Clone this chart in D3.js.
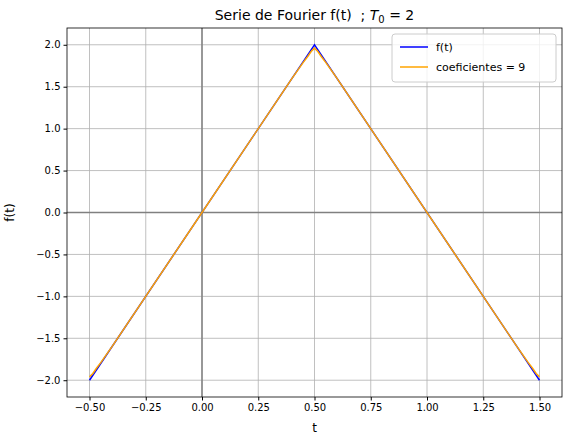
<!DOCTYPE html>
<html><head><meta charset="utf-8">
<script src="https://cdn.jsdelivr.net/npm/d3@7"></script>
<style>body{margin:0;background:#fff}text{font-family:"DejaVu Sans",sans-serif}</style>
</head><body><svg id="c" width="567" height="443"></svg>
<script>
const xTicks = [-0.5, -0.25, 0, 0.25, 0.5, 0.75, 1.0, 1.25, 1.5];
const yTicks = [-2.0, -1.5, -1.0, -0.5, 0.0, 0.5, 1.0, 1.5, 2.0];
const signalT = [-0.5, 0.5, 1.5];
const signalF = [-2, 2, -2];
const approxT = [-0.5, -0.485, -0.47, -0.45, -0.4, 0, 0.4, 0.45, 0.47, 0.485, 0.5, 0.515, 0.53, 0.55, 0.6, 1.4, 1.45, 1.47, 1.485, 1.5];
const approxF = [-1.96, -1.92, -1.86, -1.79, -1.6, 0, 1.6, 1.79, 1.86, 1.92, 1.96, 1.92, 1.86, 1.79, 1.6, -1.6, -1.79, -1.86, -1.92, -1.96];

const svg = d3.select("#c");
const L = 67, R = 562, T = 28, B = 397;
const x = d3.scaleLinear().domain([-0.6, 1.6]).range([L, R]);
const y = d3.scaleLinear().domain([-2.2, 2.2]).range([B, T]);

const g = svg.append("g");
g.selectAll(".gx").data(xTicks).join("line").attr("x1", d => x(d)).attr("x2", d => x(d))
  .attr("y1", T).attr("y2", B).attr("stroke", "#b0b0b0").attr("stroke-width", 0.8);
g.selectAll(".gy").data(yTicks).join("line").attr("y1", d => y(d)).attr("y2", d => y(d))
  .attr("x1", L).attr("x2", R).attr("stroke", "#b0b0b0").attr("stroke-width", 0.8);
g.append("line").attr("x1", x(0)).attr("x2", x(0)).attr("y1", T).attr("y2", B).attr("stroke", "#808080").attr("stroke-width", 1.5);
g.append("line").attr("y1", y(0)).attr("y2", y(0)).attr("x1", L).attr("x2", R).attr("stroke", "#808080").attr("stroke-width", 1.5);

const line = d3.line().x(d => x(d[0])).y(d => y(d[1]));
g.append("path").attr("d", line(signalT.map((t, i) => [t, signalF[i]]))).attr("fill", "none").attr("stroke", "blue").attr("stroke-width", 1.5);
g.append("path").attr("d", line(approxT.map((t, i) => [t, approxF[i]]))).attr("fill", "none").attr("stroke", "orange").attr("stroke-width", 1.5);

const ax = svg.append("g").attr("transform", `translate(0,${B})`)
  .call(d3.axisBottom(x).tickValues(xTicks).tickFormat(d3.format(".2f")).tickSize(3.5).tickPadding(3));
const ay = svg.append("g").attr("transform", `translate(${L},0)`)
  .call(d3.axisLeft(y).tickValues(yTicks).tickFormat(d3.format(".1f")).tickSize(3.5).tickPadding(3));
[ax, ay].forEach(a => { a.selectAll("text").attr("font-size", 10).attr("fill", "#000").style("font-family", "DejaVu Sans"); a.select(".domain").remove(); });
svg.append("rect").attr("x", L).attr("y", T).attr("width", R - L).attr("height", B - T).attr("fill", "none").attr("stroke", "#000").attr("stroke-width", 0.8);

svg.append("text").attr("x", (L + R) / 2).attr("y", 432).attr("text-anchor", "middle").attr("font-size", 12).text("t");
svg.append("text").attr("transform", `translate(14,${(T + B) / 2}) rotate(-90)`).attr("text-anchor", "middle").attr("font-size", 12).text("f(t)");
const title = svg.append("text").attr("x", (L + R) / 2).attr("y", 20).attr("text-anchor", "middle").attr("font-size", 14);
title.append("tspan").text("Serie de Fourier f(t)\u00a0\u00a0; ");
title.append("tspan").attr("font-style", "italic").text("T");
title.append("tspan").attr("font-size", 10).attr("dy", 3).text("0");
title.append("tspan").attr("dy", -3).text("\u00a0=\u00a02");

const lg = svg.append("g").attr("transform", "translate(392,34)");
lg.append("rect").attr("width", 164).attr("height", 48).attr("rx", 3).attr("fill", "#fff").attr("fill-opacity", 0.8).attr("stroke", "#ccc");
[["f(t)", "blue"], ["coeficientes = 9", "orange"]].forEach((d, i) => {
  lg.append("line").attr("x1", 8).attr("x2", 36).attr("y1", 13 + i * 20).attr("y2", 13 + i * 20).attr("stroke", d[1]).attr("stroke-width", 1.5);
  lg.append("text").attr("x", 44).attr("y", 17 + i * 20).attr("font-size", 11).text(d[0]);
});
</script></body></html>
